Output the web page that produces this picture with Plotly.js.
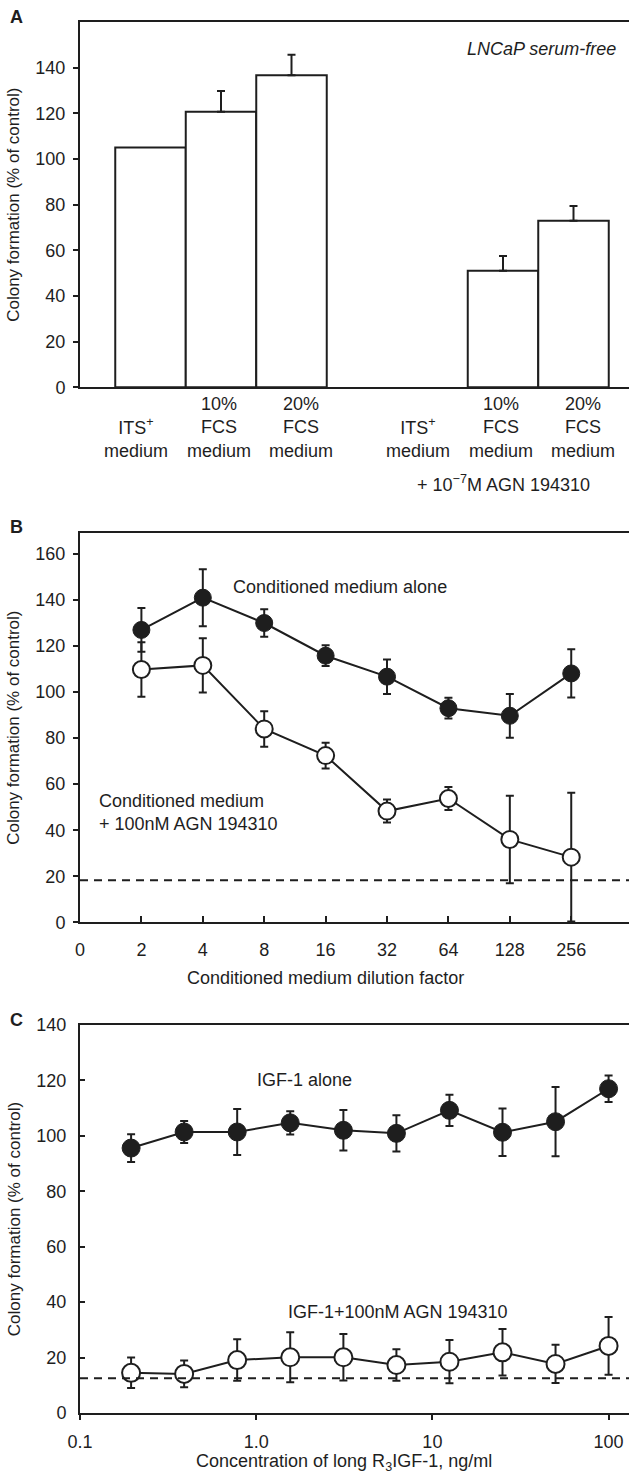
<!DOCTYPE html>
<html>
<head>
<meta charset="utf-8">
<script src="https://cdn.plot.ly/plotly-3.0.1.min.js"></script>
<style>
html,body{margin:0;padding:0;background:#fff;overflow:hidden;width:629px;height:1478px;}
#chart{width:650px;height:1478px;}
</style>
</head>
<body>
<div id="chart"></div>
<script>
// ---------- Panel A data ----------
const barTreatments = ['ITS<sup>+</sup><br>medium', '10%<br>FCS<br>medium', '20%<br>FCS<br>medium'];
const barGroups = ['', '+ 10<sup>\u22127</sup>M AGN 194310'];
const barValues = [105, 120.7, 136.7, null, 51, 73];
const barErrors = [null, 9.1, 9, null, 6.5, 6.4];
const panelANote = 'LNCaP serum-free';

// ---------- Panel B data ----------
const dilutionTickLabels = ['0', '2', '4', '8', '16', '32', '64', '128', '256'];
const dilutionFactors = [2, 4, 8, 16, 32, 64, 128, 256];
const cmAlone = [127, 141, 130, 115.8, 106.7, 93, 89.7, 108.1];
const cmAloneErr = [9.5, 12.4, 6, 4.5, 7.5, 4.5, 9.5, 10.5];
const cmAgn = [109.8, 111.6, 84, 72.4, 48.3, 53.8, 36, 28.3];
const cmAgnErr = [11.8, 11.8, 7.7, 5.6, 5, 5, 19, 28];
const cmBaseline = 18.3;
const cmAloneLabel = 'Conditioned medium alone';
const cmAgnLabel = 'Conditioned medium<br>+ 100nM AGN 194310';

// ---------- Panel C data ----------
const igfConc = [0.195, 0.39, 0.78, 1.56, 3.125, 6.25, 12.5, 25, 50, 100];
const igfAlone = [95.6, 101.4, 101.4, 104.7, 102, 100.9, 109.2, 101.3, 105.1, 117];
const igfAloneErr = [5, 4, 8.3, 4.2, 7.3, 6.5, 5.6, 8.6, 12.5, 4.8];
const igfAgn = [14.5, 14.1, 19.1, 20.1, 20.1, 17.3, 18.5, 21.9, 17.7, 24.2];
const igfAgnErr = [5.5, 4.8, 7.5, 9, 8.4, 5.7, 7.8, 8.4, 6.9, 10.4];
const igfBaseline = 12.5;
const igfTickVals = [0.1, 1, 10, 100];
const igfTickText = ['0.1', '1.0', '10', '100'];
const igfAloneLabel = 'IGF-1 alone';
const igfAgnLabel = 'IGF-1+100nM AGN 194310';

const yTitle = 'Colony formation (% of control)';

// ---------- layout helpers ----------
const W = 650, H = 1478;
const fx = p => p / W;
const fy = p => 1 - p / H;
const INK = '#1e1e1e';
const FONT = {family: 'Liberation Sans, Arial, Helvetica, sans-serif', size: 18, color: INK};
const TITLEFONT = {family: 'Liberation Sans, Arial, Helvetica, sans-serif', size: 17, color: INK};

// bar x positions: groups of three, one empty slot between groups
const barX = barValues.map((v, i) => Math.floor(i / 3) * 4 + (i % 3));
// missing error values must be NaN so that no error bar is drawn
const toErr = a => a.map(e => (e == null ? NaN : e));

const errStyle = {color: INK, thickness: 2, width: 4};

const traces = [
  {
    type: 'bar', x: barX, y: barValues, width: 1,
    marker: {color: '#fff', line: {color: INK, width: 2}},
    error_y: Object.assign({type: 'data', symmetric: false, array: toErr(barErrors),
      arrayminus: barErrors.map(e => (e == null ? NaN : 0)), visible: true}, errStyle),
    xaxis: 'x', yaxis: 'y', showlegend: false, hoverinfo: 'y'
  },
  {
    type: 'scatter', mode: 'lines+markers',
    x: dilutionFactors.map(d => Math.log2(d)), y: cmAgn,
    line: {color: INK, width: 2},
    marker: {symbol: 'circle', size: 17, color: '#fff', line: {color: INK, width: 2}},
    error_y: Object.assign({type: 'data', array: cmAgnErr, visible: true}, errStyle),
    xaxis: 'x2', yaxis: 'y2', showlegend: false
  },
  {
    type: 'scatter', mode: 'lines+markers',
    x: dilutionFactors.map(d => Math.log2(d)), y: cmAlone,
    line: {color: INK, width: 2},
    marker: {symbol: 'circle', size: 17, color: INK, line: {color: INK, width: 1}},
    error_y: Object.assign({type: 'data', array: cmAloneErr, visible: true}, errStyle),
    xaxis: 'x2', yaxis: 'y2', showlegend: false
  },
  {
    type: 'scatter', mode: 'lines+markers',
    x: igfConc, y: igfAgn,
    line: {color: INK, width: 2},
    marker: {symbol: 'circle', size: 18, color: '#fff', line: {color: INK, width: 2}},
    error_y: Object.assign({type: 'data', array: igfAgnErr, visible: true}, errStyle),
    xaxis: 'x3', yaxis: 'y3', showlegend: false
  },
  {
    type: 'scatter', mode: 'lines+markers',
    x: igfConc, y: igfAlone,
    line: {color: INK, width: 2},
    marker: {symbol: 'circle', size: 18, color: INK, line: {color: INK, width: 1}},
    error_y: Object.assign({type: 'data', array: igfAloneErr, visible: true}, errStyle),
    xaxis: 'x3', yaxis: 'y3', showlegend: false
  }
];

const axBase = {
  showline: true, linecolor: INK, linewidth: 2, mirror: true,
  showgrid: false, zeroline: false, tickcolor: INK, tickwidth: 2, ticklen: 5,
  tickfont: FONT, automargin: false, fixedrange: true
};
const xDom = [fx(80), fx(644)];

const layout = {
  width: W, height: H,
  margin: {l: 0, r: 0, t: 0, b: 0},
  paper_bgcolor: '#fff', plot_bgcolor: '#fff',
  font: FONT, showlegend: false, bargap: 0,
  xaxis: Object.assign({}, axBase, {domain: xDom, anchor: 'y', range: [-1, 7], showticklabels: false, ticks: ''}),
  yaxis: Object.assign({}, axBase, {domain: [fy(387.3), fy(22)], anchor: 'x', range: [0, 160],
    tickvals: [0, 20, 40, 60, 80, 100, 120, 140], ticks: 'outside', ticklabelstandoff: 4,
    title: {text: yTitle, font: TITLEFONT, standoff: 11}}),
  xaxis2: Object.assign({}, axBase, {domain: xDom, anchor: 'y2', range: [0, 9.185],
    tickvals: dilutionTickLabels.map((t, i) => i), ticktext: dilutionTickLabels,
    ticks: 'inside', ticklen: 6, ticklabelstandoff: 10}),
  yaxis2: Object.assign({}, axBase, {domain: [fy(922.3), fy(533)], anchor: 'x2', range: [0, 169.1],
    tickvals: [0, 20, 40, 60, 80, 100, 120, 140, 160], ticks: 'outside', ticklabelstandoff: 4,
    title: {text: yTitle, font: TITLEFONT, standoff: 11}}),
  xaxis3: Object.assign({}, axBase, {domain: xDom, anchor: 'y3', type: 'log', range: [-1, 2.201],
    tickvals: igfTickVals, ticktext: igfTickText, ticks: 'outside', ticklabelstandoff: 6}),
  yaxis3: Object.assign({}, axBase, {domain: [fy(1413), fy(1025)], anchor: 'x3', range: [0, 140],
    tickvals: [0, 20, 40, 60, 80, 100, 120, 140], ticks: 'inside', ticklabelstandoff: 8,
    title: {text: yTitle, font: TITLEFONT, standoff: 11}}),
  shapes: [
    {type: 'line', xref: 'x2 domain', yref: 'y2', x0: 0, x1: 1, y0: cmBaseline, y1: cmBaseline,
      line: {color: INK, width: 2, dash: '8px,6px'}},
    {type: 'line', xref: 'x3 domain', yref: 'y3', x0: 0, x1: 1, y0: igfBaseline, y1: igfBaseline,
      line: {color: INK, width: 2, dash: '8px,6px'}}
  ],
  annotations: []
};

const ann = layout.annotations;
// panel letters
[['A', 17], ['B', 527], ['C', 1020]].forEach(([t, y]) => ann.push({
  text: '<b>' + t + '</b>', xref: 'paper', yref: 'paper', x: fx(16), y: fy(y),
  xanchor: 'center', yanchor: 'middle', showarrow: false, font: FONT
}));

// Panel A labels
ann.push({text: '<i>' + panelANote + '</i>', xref: 'paper', yref: 'paper', x: fx(618), y: fy(49),
  xanchor: 'right', yanchor: 'middle', showarrow: false, font: FONT});
barValues.forEach((v, i) => {
  const g = Math.floor(i / 3), k = i % 3;
  ann.push({text: barTreatments[k], xref: 'x', yref: 'paper',
    x: g * 4 + 1 + (k - 1) * 1.17 - 0.03, y: fy(463),
    xanchor: 'center', yanchor: 'bottom', showarrow: false, font: FONT, align: 'center'});
});
barGroups.forEach((t, g) => {
  if (!t) return;
  ann.push({text: t, xref: 'x', yref: 'paper', x: g * 4 + 1, y: fy(484),
    xanchor: 'center', yanchor: 'middle', showarrow: false, font: FONT});
});

// Panel B labels
ann.push({text: cmAloneLabel, xref: 'paper', yref: 'paper', x: fx(340), y: fy(587),
  xanchor: 'center', yanchor: 'middle', showarrow: false, font: FONT});
ann.push({text: cmAgnLabel, xref: 'paper', yref: 'paper', x: fx(97), y: fy(812),
  xanchor: 'left', yanchor: 'middle', showarrow: false, font: FONT, align: 'left'});
ann.push({text: 'Conditioned medium dilution factor', xref: 'x2', yref: 'paper',
  x: (dilutionTickLabels.length - 1) / 2, y: fy(978),
  xanchor: 'center', yanchor: 'middle', showarrow: false, font: FONT});

// Panel C labels
ann.push({text: igfAloneLabel, xref: 'paper', yref: 'paper', x: fx(304), y: fy(1080),
  xanchor: 'center', yanchor: 'middle', showarrow: false, font: FONT});
ann.push({text: igfAgnLabel, xref: 'paper', yref: 'paper', x: fx(398), y: fy(1312),
  xanchor: 'center', yanchor: 'middle', showarrow: false, font: FONT});
ann.push({text: 'Concentration of long R<sub>3</sub>IGF-1, ng/ml', xref: 'x3', yref: 'paper',
  x: 0.5, y: fy(1462),
  xanchor: 'center', yanchor: 'middle', showarrow: false, font: FONT});

Plotly.newPlot('chart', traces, layout, {staticPlot: true, displayModeBar: false});
</script>
</body>
</html>
